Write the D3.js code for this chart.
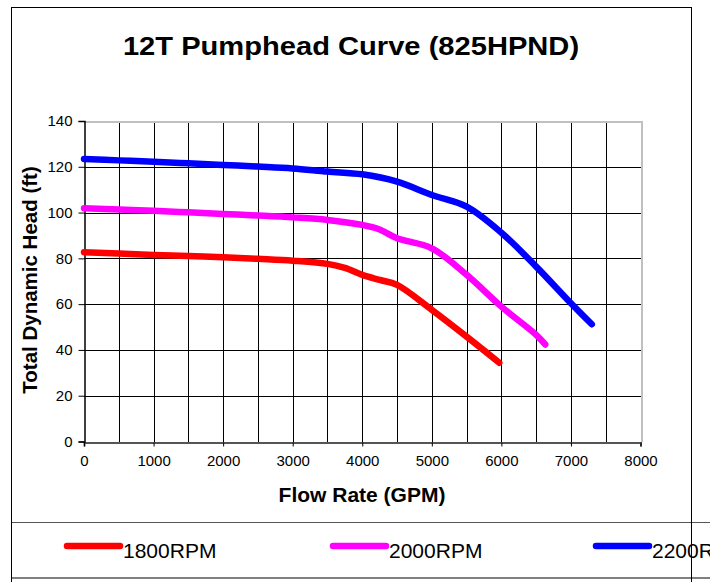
<!DOCTYPE html>
<html>
<head>
<meta charset="utf-8">
<script src="https://cdn.jsdelivr.net/npm/d3@7"></script>
<style>
  html, body { margin: 0; padding: 0; background: #fff; overflow: hidden; }
  svg { display: block; }
</style>
</head>
<body>
<svg id="chart" width="710" height="582"></svg>
<script>
// ---- Data ----
const title = "12T Pumphead Curve (825HPND)";
const xTitle = "Flow Rate (GPM)";
const yTitle = "Total Dynamic Head (ft)";
const seriesNames = ["1800RPM", "2000RPM", "2200RPM"];
const seriesColors = ["#ff0000", "#ff00ff", "#0000ff"];

const flow1800 = [0, 500, 1000, 1500, 2000, 2500, 3000, 3500, 3750, 4000, 4250, 4500, 5000, 5500, 5970];
const head1800 = [82.7, 82.1, 81.5, 81.0, 80.5, 79.8, 79.0, 77.6, 75.8, 72.8, 70.6, 68.4, 57.5, 45.8, 34.4];

const flow2000 = [0, 500, 1000, 1500, 2000, 2500, 3000, 3500, 4000, 4250, 4500, 5000, 5500, 6000, 6500, 6630];
const head2000 = [101.9, 101.3, 100.8, 100.1, 99.4, 98.7, 97.9, 96.8, 94.6, 92.6, 88.8, 84.4, 72.8, 58.9, 46.6, 42.4];

const flow2200 = [0, 500, 1000, 1500, 2000, 2500, 3000, 3500, 4000, 4500, 5000, 5500, 6000, 6500, 7000, 7300];
const head2200 = [123.4, 122.8, 122.2, 121.5, 120.8, 120.1, 119.3, 117.9, 116.7, 113.5, 107.7, 102.6, 91.2, 76.4, 60.4, 51.2];

const xTicks = [0, 1000, 2000, 3000, 4000, 5000, 6000, 7000, 8000];
const xGrid = [500, 1000, 1500, 2000, 2500, 3000, 3500, 4000, 4500, 5000, 5500, 6000, 6500, 7000, 7500];
const yTicks = [0, 20, 40, 60, 80, 100, 120, 140];

const flows = [flow1800, flow2000, flow2200];
const heads = [head1800, head2000, head2200];

// ---- Drawing ----
const svg = d3.select("#chart");
const font = "'Liberation Sans', Arial, Helvetica, sans-serif";

const x = d3.scaleLinear().domain([0, 8000]).range([84, 640.5]);
const y = d3.scaleLinear().domain([0, 140]).range([441.5, 121]);

svg.append("rect").attr("width", 710).attr("height", 582).attr("fill", "#fff");

// Title
svg.append("text")
  .attr("x", 351).attr("y", 55)
  .attr("text-anchor", "middle")
  .attr("font-family", font).attr("font-weight", "bold").attr("font-size", 26)
  .attr("transform", "translate(351,0) scale(1.12,1) translate(-351,0)")
  .text(title);

// Grid lines
const grid = svg.append("g").attr("shape-rendering", "crispEdges");
grid.selectAll("line.vg").data(xGrid).enter().append("line")
  .attr("x1", d => Math.round(x(d)) + 0.5).attr("x2", d => Math.round(x(d)) + 0.5)
  .attr("y1", y(140)).attr("y2", y(0))
  .attr("stroke", "#000").attr("stroke-width", 1);
grid.selectAll("line.hg").data(yTicks.filter(d => d > 0 && d < 140)).enter().append("line")
  .attr("x1", x(0)).attr("x2", x(8000))
  .attr("y1", d => Math.round(y(d)) + 0.5).attr("y2", d => Math.round(y(d)) + 0.5)
  .attr("stroke", "#000").attr("stroke-width", 1);
// plot border top/right (gray)
grid.append("line").attr("x1", x(0)).attr("x2", x(8000)).attr("y1", Math.round(y(140)) + 0.5).attr("y2", Math.round(y(140)) + 0.5)
  .attr("stroke", "#c0c0c0").attr("stroke-width", 2);
grid.append("line").attr("x1", Math.round(x(8000)) + 0.5).attr("x2", Math.round(x(8000)) + 0.5).attr("y1", y(140)).attr("y2", y(0))
  .attr("stroke", "#c0c0c0").attr("stroke-width", 2);

// Axes
const xAxis = d3.axisBottom(x).tickValues(xTicks).tickSize(4).tickPadding(9).tickFormat(d3.format("d"));
const gx = svg.append("g").attr("transform", `translate(0,${Math.round(y(0)) + 0.5})`).call(xAxis);
gx.select(".domain").attr("stroke", "#555").attr("stroke-width", 2);
gx.selectAll(".tick line").attr("stroke", "#000");
gx.selectAll(".tick text").attr("font-family", font).attr("font-size", 15).attr("fill", "#000");

const yAxis = d3.axisLeft(y).tickValues(yTicks).tickSize(6).tickPadding(6).tickFormat(d3.format("d"));
const gy = svg.append("g").attr("transform", `translate(${Math.round(x(0)) + 0.5},0)`).call(yAxis);
gy.select(".domain").attr("stroke", "#000").attr("stroke-width", 1.5);
gy.selectAll(".tick line").attr("stroke", "#000");
gy.selectAll(".tick text").attr("font-family", font).attr("font-size", 15).attr("fill", "#000");

// Axis titles
svg.append("text")
  .attr("x", 362).attr("y", 502)
  .attr("text-anchor", "middle")
  .attr("font-family", font).attr("font-weight", "bold").attr("font-size", 21)
  .text(xTitle);
svg.append("text")
  .attr("transform", "translate(37,280) rotate(-90)")
  .attr("text-anchor", "middle")
  .attr("font-family", font).attr("font-weight", "bold").attr("font-size", 20.5)
  .text(yTitle);

// Curves
const line = d3.line()
  .x(d => x(d[0])).y(d => y(d[1]))
  .curve(d3.curveCatmullRom.alpha(0.5));

flows.forEach((fl, i) => {
  const pts = fl.map((f, j) => [f, heads[i][j]]);
  svg.append("path")
    .datum(pts)
    .attr("d", line)
    .attr("fill", "none")
    .attr("stroke", seriesColors[i])
    .attr("stroke-width", 6.5)
    .attr("stroke-linecap", "round")
    .attr("stroke-linejoin", "round");
});

// Legend
const legendX = [67, 333, 596];
const lg = svg.append("g");
seriesNames.forEach((name, i) => {
  lg.append("line")
    .attr("x1", legendX[i]).attr("x2", legendX[i] + 53)
    .attr("y1", 546).attr("y2", 546)
    .attr("stroke", seriesColors[i]).attr("stroke-width", 6.5)
    .attr("stroke-linecap", "round");
  lg.append("text")
    .attr("x", legendX[i] + 56).attr("y", 557.5)
    .attr("font-family", font).attr("font-size", 21)
    .attr("fill", "#000")
    .text(name);
});

// Borders
const borders = svg.append("g").attr("shape-rendering", "crispEdges");
borders.append("line").attr("x1", 11).attr("x2", 710).attr("y1", 522.5).attr("y2", 522.5).attr("stroke", "#555").attr("stroke-width", 1.5);
borders.append("line").attr("x1", 11).attr("x2", 710).attr("y1", 577.5).attr("y2", 577.5).attr("stroke", "#808080").attr("stroke-width", 2);
borders.append("line").attr("x1", 11.5).attr("x2", 11.5).attr("y1", 7).attr("y2", 582).attr("stroke", "#000").attr("stroke-width", 1.5);
borders.append("line").attr("x1", 11).attr("x2", 692).attr("y1", 7.5).attr("y2", 7.5).attr("stroke", "#000").attr("stroke-width", 1.5);
borders.append("line").attr("x1", 691.5).attr("x2", 691.5).attr("y1", 7).attr("y2", 582).attr("stroke", "#000").attr("stroke-width", 1.5);
</script>
</body>
</html>
